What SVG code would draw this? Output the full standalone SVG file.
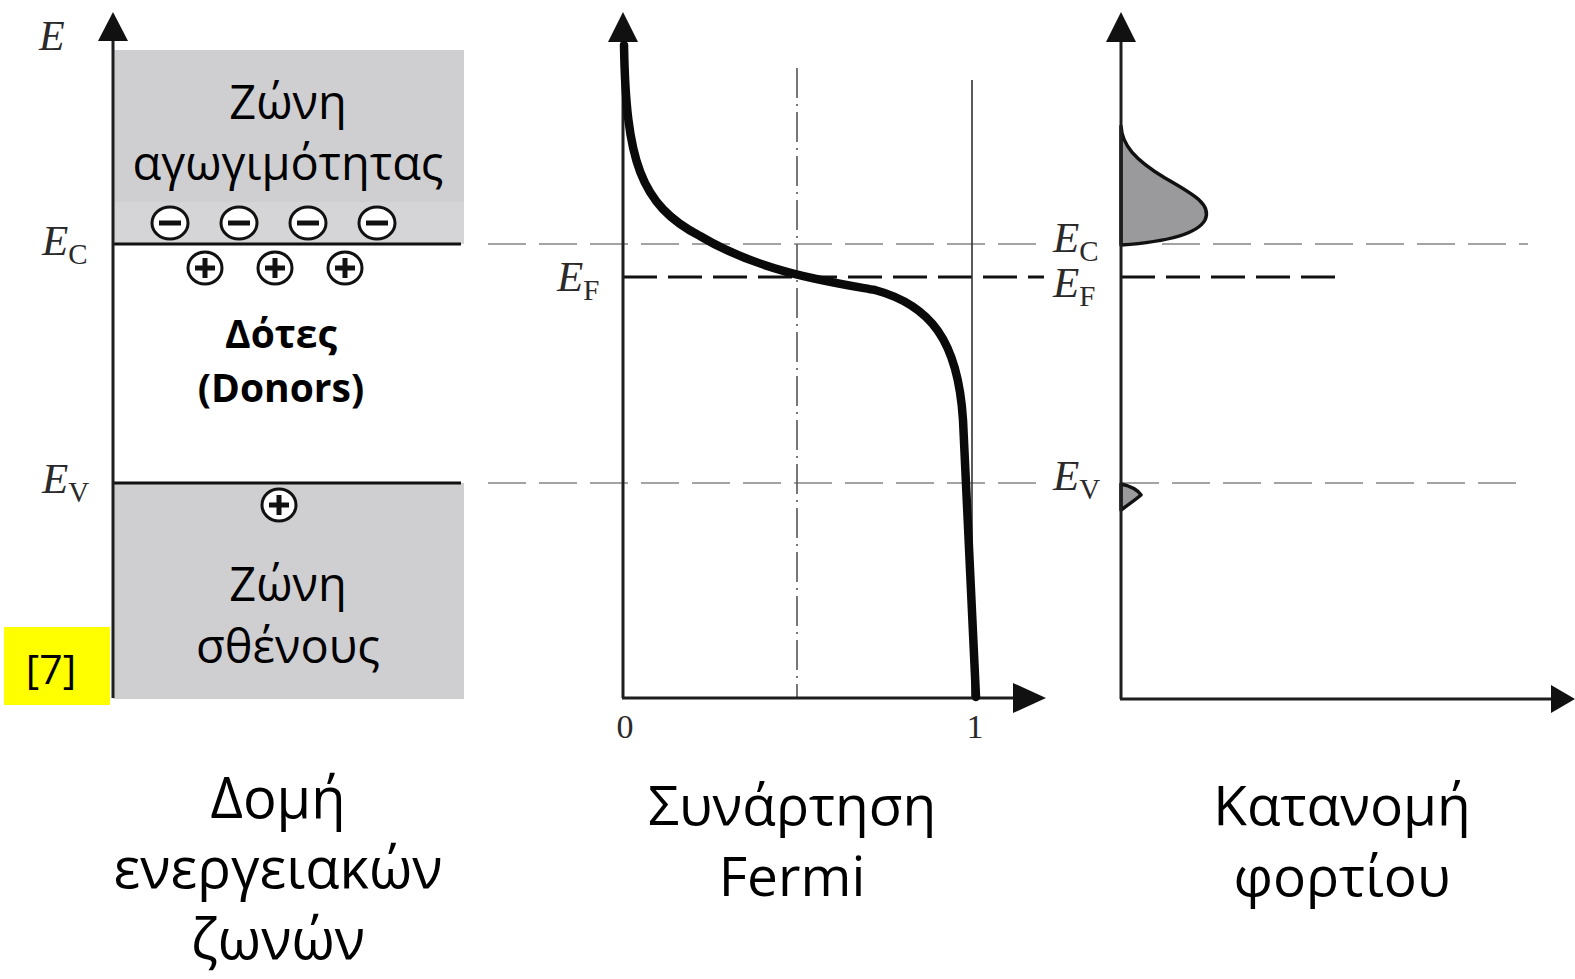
<svg xmlns="http://www.w3.org/2000/svg" width="1575" height="979" viewBox="0 0 1575 979">
<style>
.band{fill:#cfcfd1}
.ax{stroke:#1e1e1e;stroke-width:3;fill:none}
.lvl{stroke:#111;stroke-width:3}
.gd{stroke:#a3a3a3;stroke-width:2.2;stroke-dasharray:38 13;fill:none}
.fd{stroke:#111;stroke-width:3;stroke-dasharray:34 11;fill:none}
.arr{fill:#111}
.lab{font-family:"Open Sans","Noto Sans",sans-serif;fill:#000;text-anchor:middle}
.ser{font-family:"Liberation Serif",serif;fill:#2a2a2a}
.chg{fill:#fff;stroke:#111;stroke-width:3}
.sym{stroke:#111;stroke-width:5;stroke-linecap:butt}
.dist{fill:#9a9a9c;stroke:#111;stroke-width:3.5;stroke-linejoin:round}
</style>
<rect width="1575" height="979" fill="#fff"/>

<g id="band-structure">
<rect class="band" x="113" y="50" width="351" height="194"/>
<rect x="113" y="202" width="351" height="42" fill="#d5d5d7"/>
<rect class="band" x="113" y="483" width="351" height="216"/>
<line class="lvl" x1="113" y1="244" x2="461" y2="244"/>
<line class="lvl" x1="113" y1="483" x2="461" y2="483"/>
<line class="ax" x1="113" y1="36" x2="113" y2="698"/>
<polygon class="arr" points="113,12 98,41 128,41"/>
<text class="ser" x="39" y="50" font-size="42" font-style="italic">E</text>
<text class="ser" x="42" y="255" font-size="43"><tspan font-style="italic">E</tspan><tspan font-size="29" dy="9">C</tspan></text>
<text class="ser" x="42" y="493" font-size="43"><tspan font-style="italic">E</tspan><tspan font-size="29" dy="9">V</tspan></text>
<text class="lab" x="288" y="119" font-size="47">Ζώνη</text>
<text class="lab" x="288" y="180" font-size="47">αγωγιμότητας</text>
<g id="electrons">
<ellipse class="chg" cx="170" cy="223" rx="18" ry="16"/><line class="sym" x1="159" y1="223" x2="181" y2="223"/>
<ellipse class="chg" cx="239" cy="223" rx="18" ry="16"/><line class="sym" x1="228" y1="223" x2="250" y2="223"/>
<ellipse class="chg" cx="308" cy="223" rx="18" ry="16"/><line class="sym" x1="297" y1="223" x2="319" y2="223"/>
<ellipse class="chg" cx="377" cy="223" rx="18" ry="16"/><line class="sym" x1="366" y1="223" x2="388" y2="223"/>
</g>
<g id="donor-ions">
<ellipse class="chg" cx="205" cy="268" rx="17" ry="16" stroke-width="2.5"/><path class="sym" d="M195 268H215M205 258V278" stroke-width="4"/>
<ellipse class="chg" cx="275" cy="268" rx="17" ry="16" stroke-width="2.5"/><path class="sym" d="M265 268H285M275 258V278" stroke-width="4"/>
<ellipse class="chg" cx="345" cy="268" rx="17" ry="16" stroke-width="2.5"/><path class="sym" d="M335 268H355M345 258V278" stroke-width="4"/>
<ellipse class="chg" cx="279" cy="505" rx="17" ry="16" stroke-width="2.5"/><path class="sym" d="M269 505H289M279 495V515" stroke-width="4"/>
</g>
<text class="lab" x="281" y="348" font-size="39" font-weight="bold">Δότες</text>
<text class="lab" x="281" y="402" font-size="39" font-weight="bold">(Donors)</text>
<text class="lab" x="288" y="601" font-size="47">Ζώνη</text>
<text class="lab" x="288" y="663" font-size="47">σθένους</text>
<rect x="4" y="627" width="106" height="78" fill="#ffff00"/>
<text class="lab" x="51" y="684" font-size="41">[7]</text>
</g>

<g id="connectors">
<path class="gd" d="M488 244H1044M1162 244H1528"/>
<path class="gd" d="M488 483H1044M1121 483H1528"/>
<path class="fd" d="M623 277H1044M1121 277H1345"/>
</g>

<g id="fermi-function">
<line x1="797" y1="68" x2="797" y2="698" stroke="#555" stroke-width="1.6" stroke-dasharray="30 6 2 6"/>
<line x1="972" y1="80" x2="972" y2="698" stroke="#333" stroke-width="1.6"/>
<line class="ax" x1="623" y1="36" x2="623" y2="698"/>
<line class="ax" x1="622" y1="698" x2="1020" y2="698"/>
<polygon class="arr" points="623,12 608,42 638,42"/>
<polygon class="arr" points="1046,698 1013,683 1013,713"/>
<path d="M624 45 C626 160 640 205 700 236 C760 272 830 282 875 290 C930 305 958 340 963 420 L976 697" fill="none" stroke="#0a0a0a" stroke-width="8.5" stroke-linecap="round" stroke-linejoin="round"/>
<text class="ser" x="557" y="291" font-size="43"><tspan font-style="italic">E</tspan><tspan font-size="29" dy="9">F</tspan></text>
<text class="ser" x="625" y="738" font-size="34" text-anchor="middle">0</text>
<text class="ser" x="975" y="738" font-size="34" text-anchor="middle">1</text>
</g>

<g id="charge-distribution">
<path class="dist" d="M1121 126 C1122 145 1135 160 1165 178 C1195 195 1212 205 1205 220 C1195 238 1150 243 1121 245 Z"/>
<path class="dist" d="M1121 484 C1130 486 1138 490 1141 495 C1135 500 1128 505 1121 510 Z" stroke-width="3"/>
<line class="ax" x1="1121" y1="36" x2="1121" y2="699"/>
<line class="ax" x1="1120" y1="699" x2="1555" y2="699"/>
<polygon class="arr" points="1121,12 1106,42 1136,42"/>
<polygon class="arr" points="1575,699 1551,685 1551,713"/>
<text class="ser" x="1053" y="252" font-size="43"><tspan font-style="italic">E</tspan><tspan font-size="29" dy="9">C</tspan></text>
<text class="ser" x="1053" y="297" font-size="43"><tspan font-style="italic">E</tspan><tspan font-size="29" dy="9">F</tspan></text>
<text class="ser" x="1053" y="490" font-size="43"><tspan font-style="italic">E</tspan><tspan font-size="29" dy="9">V</tspan></text>
</g>

<g id="captions">
<text class="lab" x="278" y="818" font-size="56">Δομή</text>
<text class="lab" x="278" y="888" font-size="56">ενεργειακών</text>
<text class="lab" x="278" y="959" font-size="56">ζωνών</text>
<text class="lab" x="792" y="825" font-size="55">Συνάρτηση</text>
<text class="lab" x="792" y="896" font-size="55">Fermi</text>
<text class="lab" x="1342" y="825" font-size="55">Κατανομή</text>
<text class="lab" x="1342" y="896" font-size="55">φορτίου</text>
</g>
</svg>
